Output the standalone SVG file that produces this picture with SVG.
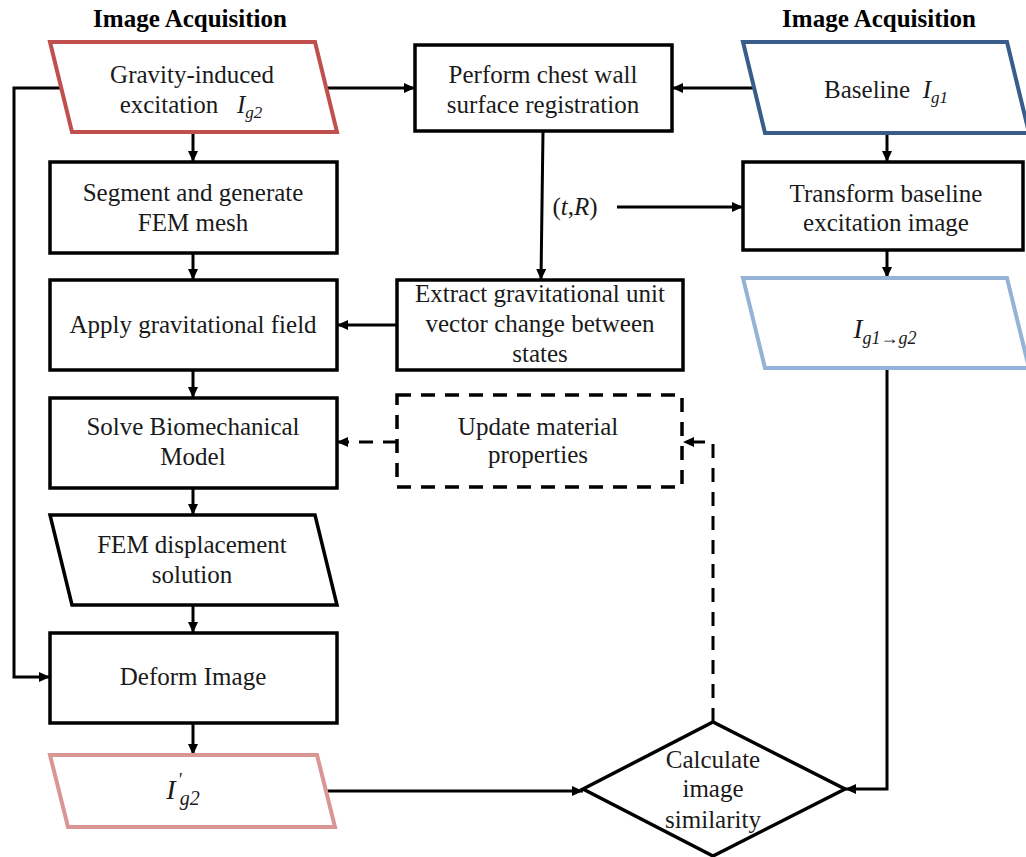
<svg xmlns="http://www.w3.org/2000/svg" width="1026" height="857" viewBox="0 0 1026 857">
<style>
text{font-family:"Liberation Serif","Times New Roman",serif;font-size:25px;fill:#1a1a1a;text-anchor:middle}
.h{font-weight:bold;fill:#000}
.box{fill:#fff;stroke:#000;stroke-width:3.5}
.io{fill:#fff;stroke-width:4}
.c{fill:none;stroke:#000;stroke-width:3}
.d{stroke-dasharray:14 10}
.it{font-style:italic}
</style>
<defs>
<marker id="a" markerUnits="userSpaceOnUse" markerWidth="11" markerHeight="10" refX="11" refY="5" orient="auto">
<path d="M0,0 L11,5 L0,10 z" fill="#000" stroke="none"/>
</marker>
</defs>
<text class="h" x="190" y="27">Image Acquisition</text>
<text class="h" x="879" y="27">Image Acquisition</text>
<g id="connectors">
<path class="c" d="M61,88 H14 V677 H50" marker-end="url(#a)"/>
<path class="c" d="M326,88 H415" marker-end="url(#a)"/>
<path class="c" d="M754,88 H672" marker-end="url(#a)"/>
<path class="c" d="M193,132 V162" marker-end="url(#a)"/>
<path class="c" d="M193,253 V280" marker-end="url(#a)"/>
<path class="c" d="M193,370 V398" marker-end="url(#a)"/>
<path class="c" d="M193,488 V515" marker-end="url(#a)"/>
<path class="c" d="M193,605 V633" marker-end="url(#a)"/>
<path class="c" d="M193,723 V755" marker-end="url(#a)"/>
<path class="c" d="M887,133 V162" marker-end="url(#a)"/>
<path class="c" d="M887,250 V278" marker-end="url(#a)"/>
<path class="c" d="M887,368 V789 H845" marker-end="url(#a)"/>
<path class="c" d="M543,131 L541,280" marker-end="url(#a)"/>
<path class="c" d="M617,207 H743" marker-end="url(#a)"/>
<path class="c" d="M397,325 H337" marker-end="url(#a)"/>
<path class="c" d="M326,791 H583" marker-end="url(#a)"/>
<path class="c d" d="M713,722 V442 H683" marker-end="url(#a)"/>
<path class="c d" d="M397,442 H337" marker-end="url(#a)"/>
<text x="575" y="215"><tspan>(</tspan><tspan class="it">t</tspan><tspan>,</tspan><tspan class="it">R</tspan><tspan>)</tspan></text>
</g>
<g id="n-gravity">
<polygon class="io" stroke="#C0504D" points="50,42 315,42 337,132 72,132"/>
<text x="192" y="83">Gravity-induced</text>
<text x="191" y="113">excitation&#160;&#160;&#160;<tspan class="it">I</tspan><tspan class="it" font-size="17" dy="5">g2</tspan></text>
</g>
<g id="n-perform">
<rect class="box" x="415" y="45" width="257" height="86"/>
<text x="543" y="83">Perform chest wall</text>
<text x="543" y="113">surface registration</text>
</g>
<g id="n-baseline">
<polygon class="io" stroke="#385D8A" points="743,42 1007,42 1029,133 765,133"/>
<text x="886" y="98">Baseline&#160;&#160;<tspan class="it">I</tspan><tspan class="it" font-size="17" dy="5">g1</tspan></text>
</g>
<g id="n-segment">
<rect class="box" x="50" y="162" width="287" height="91"/>
<text x="193" y="201">Segment and generate</text>
<text x="193" y="231">FEM mesh</text>
</g>
<g id="n-transform">
<rect class="box" x="743" y="162" width="280" height="88"/>
<text x="886" y="202">Transform baseline</text>
<text x="886" y="231">excitation image</text>
</g>
<g id="n-apply">
<rect class="box" x="50" y="280" width="287" height="90"/>
<text x="193" y="333">Apply gravitational field</text>
</g>
<g id="n-extract">
<rect class="box" x="397" y="280" width="286" height="90"/>
<text x="540" y="302">Extract gravitational unit</text>
<text x="540" y="332">vector change between</text>
<text x="540" y="362">states</text>
</g>
<g id="n-ig1g2">
<polygon class="io" stroke="#95B3D7" points="743,278 1007,278 1029,368 765,368"/>
<text x="885" y="338"><tspan class="it" font-size="27">I</tspan><tspan class="it" font-size="18" dy="6">g1→g2</tspan></text>
</g>
<g id="n-solve">
<rect class="box" x="50" y="398" width="287" height="90"/>
<text x="193" y="435">Solve Biomechanical</text>
<text x="193" y="465">Model</text>
</g>
<g id="n-update">
<rect class="box d" x="397" y="395" width="285" height="92"/>
<text x="538" y="435">Update material</text>
<text x="538" y="463">properties</text>
</g>
<g id="n-fem">
<polygon class="box" points="50,515 315,515 337,605 72,605"/>
<text x="192" y="553">FEM displacement</text>
<text x="192" y="583">solution</text>
</g>
<g id="n-deform">
<rect class="box" x="50" y="633" width="287" height="90"/>
<text x="193" y="685">Deform Image</text>
</g>
<g id="n-ig2p">
<polygon class="io" stroke="#D99694" points="50,755 317,755 335,827 68,827"/>
<text x="183" y="799"><tspan class="it" font-size="28">I</tspan><tspan class="it" font-size="18" dy="-13" dx="2">′</tspan><tspan class="it" font-size="20" dy="19" dx="-2">g2</tspan></text>
</g>
<g id="n-calc">
<polygon class="box" points="583,789 713,722 845,789 713,856"/>
<text x="713" y="768">Calculate</text>
<text x="713" y="797">image</text>
<text x="713" y="828">similarity</text>
</g>
</svg>
